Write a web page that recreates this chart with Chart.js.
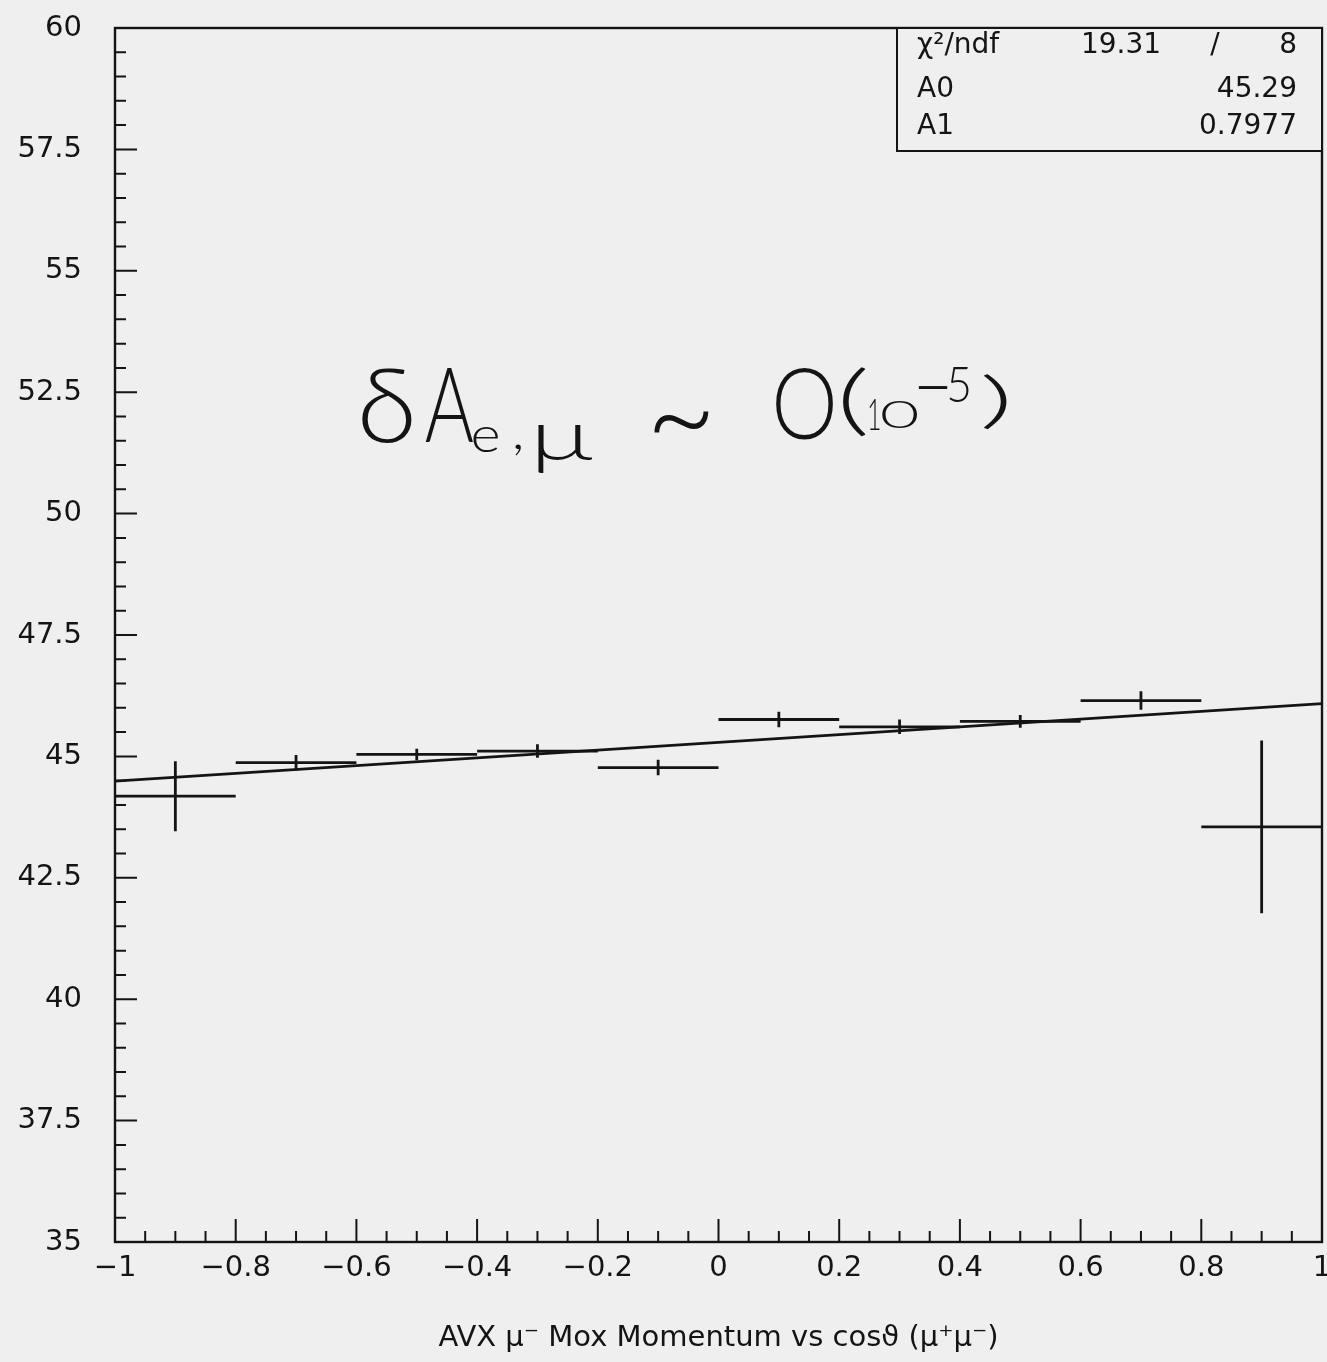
<!DOCTYPE html>
<html>
<head>
<meta charset="utf-8">
<script src="https://cdn.jsdelivr.net/npm/chart.js@4.4.0/dist/chart.umd.min.js"></script>
<style>
  html, body { margin: 0; padding: 0; background: #efefef; }
  #wrap { width: 1327px; height: 1362px; }
</style>
</head>
<body>
<div id="wrap"><canvas id="momChart"></canvas></div>
<script>
// cos(theta) bins and mean mu- momentum in each bin
const binEdges = [-1, -0.8, -0.6, -0.4, -0.2, 0, 0.2, 0.4, 0.6, 0.8, 1];
const meanMomentum = [44.18, 44.87, 45.04, 45.11, 44.77, 45.76, 45.61, 45.72, 46.15, 43.55];
const momentumErr = [0.72, 0.16, 0.12, 0.14, 0.16, 0.16, 0.15, 0.13, 0.19, 1.78];

// pol1 fit results
const fitChi2 = '19.31';
const fitNdf = '8';
const fitA0 = 45.29;
const fitA1 = 0.7977;

// axis ticks
const xTicks = [-1, -0.8, -0.6, -0.4, -0.2, 0, 0.2, 0.4, 0.6, 0.8, 1];
const yTicks = [35, 37.5, 40, 42.5, 45, 47.5, 50, 52.5, 55, 57.5, 60];
const xMinorStep = 0.05;
const yMinorStep = 0.5;

const ink = '#141414';
const paper = '#efefef';
const labelFont = '"DejaVu Sans", "Liberation Sans", sans-serif';

// error-bar crosses: one horizontal segment per bin, one vertical per bin, null breaks between
const hBars = [];
const vBars = [];
meanMomentum.forEach(function (v, i) {
    const lo = binEdges[i], hi = binEdges[i + 1], c = (lo + hi) / 2;
    hBars.push({ x: lo, y: v }, { x: hi, y: v }, { x: hi, y: null });
    vBars.push({ x: c, y: v - momentumErr[i] }, { x: c, y: v + momentumErr[i] }, { x: c, y: null });
});
const fitLine = [
    { x: binEdges[0], y: fitA0 + fitA1 * binEdges[0] },
    { x: binEdges[binEdges.length - 1], y: fitA0 + fitA1 * binEdges[binEdges.length - 1] }
];

function fmt(v) {
    return String(v).replace('-', '\u2212');
}

// draws a glyph run stretched into the box [x0,x1] x [y0,y1]
function drawFitted(c, text, size, x0, x1, y0, y1) {
    c.font = '300 ' + size + 'px Lato, "Open Sans", sans-serif';
    const m = c.measureText(text);
    const w = m.actualBoundingBoxLeft + m.actualBoundingBoxRight;
    const h = m.actualBoundingBoxAscent + m.actualBoundingBoxDescent;
    c.save();
    c.translate(x0, y0);
    c.scale((x1 - x0) / w, (y1 - y0) / h);
    c.fillText(text, m.actualBoundingBoxLeft, m.actualBoundingBoxAscent);
    c.restore();
}

// the pen note, boxes relative to the point (-0.6, 51.4)
const notePieces = [
    ['\u03b4', 100, 6, 56, -78, -3],
    ['A', 100, 69, 117, -79, -4],
    ['e', 60, 117, 142, -19, 6],
    [',', 60, 158, 165, -2, 10],
    ['\u03bc', 70, 181, 236, -21, 27],
    ['~', 80, 297, 352, -36, -14],
    ['O', 100, 419, 477, -79, -6],
    ['(', 100, 486, 510, -79, -9],
    ['1', 40, 513, 523, -46, -16],
    ['0', 40, 525, 561, -44, -18],
    ['\u2212', 40, 562, 591, -61, -55],
    ['5', 40, 592, 612, -79, -44],
    [')', 90, 627, 651, -73, -16]
];

// frame, inward tick marks, tick labels, stats box and the pen note
const framePlugin = {
    id: 'frame',
    beforeDraw: function (chart) {
        const c = chart.ctx;
        c.save();
        c.fillStyle = paper;
        c.fillRect(0, 0, chart.width, chart.height);
        c.restore();
    },
    afterDraw: function (chart) {
        const c = chart.ctx;
        const a = chart.chartArea;
        const xs = chart.scales.x, ys = chart.scales.y;
        c.save();
        c.strokeStyle = ink;
        c.fillStyle = ink;
        c.lineWidth = 2.4;
        c.strokeRect(a.left, a.top, a.right - a.left, a.bottom - a.top);

        // x ticks on the bottom edge
        c.lineWidth = 2;
        c.beginPath();
        for (let v = -1; v <= 1.0001; v += xMinorStep) {
            const px = xs.getPixelForValue(v);
            const major = xTicks.some(t => Math.abs(t - v) < 1e-6);
            c.moveTo(px, a.bottom);
            c.lineTo(px, a.bottom - (major ? 23 : 11));
        }
        // y ticks on the left edge
        for (let v = 35; v <= 60.0001; v += yMinorStep) {
            const py = ys.getPixelForValue(v);
            const major = yTicks.some(t => Math.abs(t - v) < 1e-6);
            c.moveTo(a.left, py);
            c.lineTo(a.left + (major ? 22 : 11), py);
        }
        c.stroke();

        // tick labels
        c.font = '29px ' + labelFont;
        c.textBaseline = 'middle';
        c.textAlign = 'center';
        xTicks.forEach(function (v) {
            c.fillText(fmt(v), xs.getPixelForValue(v), a.bottom + 26);
        });
        c.textAlign = 'right';
        yTicks.forEach(function (v) {
            c.fillText(fmt(v), a.left - 33, ys.getPixelForValue(v));
        });

        // fit statistics box
        const bx = a.right - 425, by = a.top, bw = 425, bh = 123;
        c.fillStyle = paper;
        c.fillRect(bx, by, bw, bh);
        c.lineWidth = 2;
        c.strokeRect(bx, by, bw, bh);
        c.fillStyle = ink;
        c.font = '28px ' + labelFont;
        const rows = [by + 18, by + 62, by + 99];
        c.textAlign = 'left';
        c.fillText('\u03c7\u00b2/ndf', bx + 20, rows[0]);
        c.fillText('A0', bx + 20, rows[1]);
        c.fillText('A1', bx + 20, rows[2]);
        c.textAlign = 'center';
        c.fillText(fitChi2, bx + 224, rows[0]);
        c.fillText('/', bx + 318, rows[0]);
        c.textAlign = 'right';
        c.fillText(fitNdf, bx + 400, rows[0]);
        c.fillText(fitA0.toFixed(2), bx + 400, rows[1]);
        c.fillText(fitA1.toFixed(4), bx + 400, rows[2]);

        // pen note: dA_{e,mu} ~ O(10^-5)
        const ox = xs.getPixelForValue(-0.6);
        const oy = ys.getPixelForValue(51.4);
        c.textAlign = 'left';
        c.textBaseline = 'alphabetic';
        notePieces.forEach(function (p) {
            drawFitted(c, p[0], p[1], ox + p[2], ox + p[3], oy + p[4], oy + p[5]);
        });
        c.restore();
    }
};

const ctx = document.getElementById('momChart');
ctx.width = 1327;
ctx.height = 1362;

new Chart(ctx, {
    type: 'scatter',
    data: {
        datasets: [
            { data: hBars, showLine: true, spanGaps: false, borderColor: ink, borderWidth: 2.8, pointRadius: 0 },
            { data: vBars, showLine: true, spanGaps: false, borderColor: ink, borderWidth: 2.8, pointRadius: 0 },
            { data: fitLine, showLine: true, borderColor: ink, borderWidth: 2.8, pointRadius: 0 }
        ]
    },
    options: {
        responsive: false,
        animation: false,
        events: [],
        layout: { padding: { top: 28, right: 5, left: 0, bottom: 0 } },
        plugins: {
            legend: { display: false },
            tooltip: { enabled: false }
        },
        scales: {
            x: {
                type: 'linear',
                min: -1,
                max: 1,
                afterBuildTicks: function (s) { s.ticks = xTicks.map(v => ({ value: v })); },
                afterFit: function (s) { s.height = 120; },
                grid: { display: false, drawTicks: false },
                border: { display: false },
                ticks: { display: false },
                title: {
                    display: true,
                    text: 'AVX \u03bc\u207b Mox Momentum vs cos\u03d1 (\u03bc\u207a\u03bc\u207b)',
                    color: ink,
                    font: { family: labelFont, size: 29 },
                    padding: { top: 0, bottom: 6 }
                }
            },
            y: {
                type: 'linear',
                min: 35,
                max: 60,
                afterBuildTicks: function (s) { s.ticks = yTicks.map(v => ({ value: v })); },
                afterFit: function (s) { s.width = 115; },
                grid: { display: false, drawTicks: false },
                border: { display: false },
                ticks: { display: false }
            }
        }
    },
    plugins: [framePlugin]
});
</script>
</body>
</html>
